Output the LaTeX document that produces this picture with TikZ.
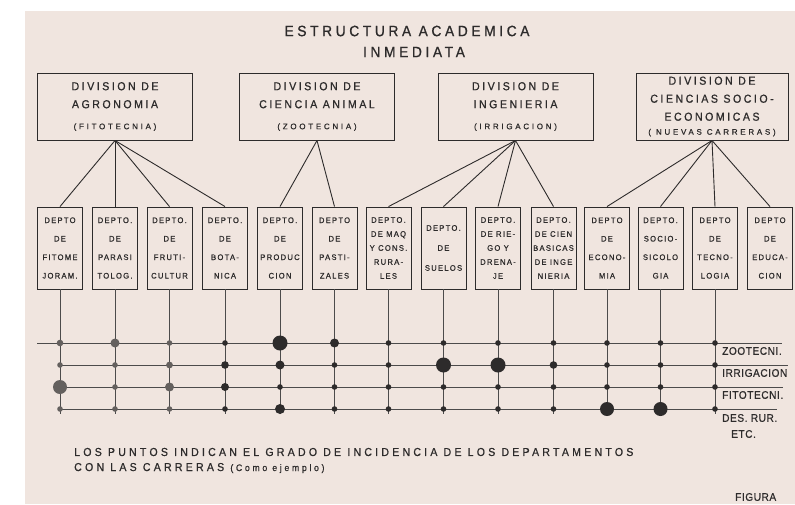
\documentclass[tikz,border=0pt]{standalone}
\usepackage{fontspec}
\usepackage{tikz}
\setmainfont{Liberation Sans}
\newfontfamily\titlefont[LetterSpace=24, FakeBold=0.9, FakeStretch=0.92]{Liberation Sans}
\newfontfamily\divfont[LetterSpace=22, FakeBold=0.8, FakeStretch=0.92]{Liberation Sans}
\newfontfamily\subdivfont[LetterSpace=34, FakeBold=0.8]{Liberation Sans}
\newfontfamily\deptfont[LetterSpace=16, FakeBold=0.8, FakeStretch=0.95]{Liberation Sans}
\newfontfamily\notefont[LetterSpace=28, FakeBold=0.7, FakeStretch=0.92]{Liberation Sans}
\newfontfamily\carrfont[LetterSpace=5, FakeBold=0.7, FakeStretch=0.92]{Liberation Sans}
\definecolor{paper}{RGB}{240, 229, 223}
\definecolor{ink}{RGB}{45, 43, 43}
\definecolor{dotgray}{RGB}{100, 96, 94}
\def\subdiv{\subdivfont\fontsize{8}{9}\selectfont}
\tikzset{
  division/.style = {draw = ink, line width = 1pt, minimum width = 155, minimum height = 67,
    inner sep = 0pt, align = center, text = ink, font = \divfont\fontsize{11.5}{18}\selectfont},
  depto/.style = {draw = ink, line width = 0.9pt, minimum width = 45, minimum height = 82,
    inner sep = 0pt, align = center, text = ink, font = \deptfont\fontsize{8}{18.5}\selectfont},
  depto5/.style = {depto, font = \deptfont\fontsize{8}{14}\selectfont},
  rama/.style = {draw = ink, line width = 0.9pt},
  rejilla/.style = {draw = ink!85, line width = 0.7pt},
  carrera/.style = {anchor = west, inner sep = 0pt, text = ink, font = \carrfont\fontsize{11}{12}\selectfont},
  nota/.style = {anchor = west, inner sep = 0pt, text = ink, font = \notefont\fontsize{11.5}{12}\selectfont}
}

\begin{document}
\begin{tikzpicture}[x = 1pt, y = -1pt]
  \useasboundingbox (0, 0) rectangle (795, 504);
  \fill[paper] (25, 11) rectangle (795, 504);

  % titulo
  \node[text = ink, font = \titlefont\fontsize{15}{16}\selectfont] (titulo) at (407, 31) {ESTRUCTURA ACADEMICA};
  \node[text = ink, font = \titlefont\fontsize{15}{16}\selectfont] (titulo2) at (414, 52) {INMEDIATA};

  % divisiones
  \node[division] (agro) at (115, 106.5) {DIVISION DE\\AGRONOMIA\\[3pt]{\subdiv (FITOTECNIA)}};
  \node[division] (animal) at (317, 106.5) {DIVISION DE\\CIENCIA ANIMAL\\[3pt]{\subdiv (ZOOTECNIA)}};
  \node[division] (inge) at (515.5, 106.5) {DIVISION DE\\INGENIERIA\\[3pt]{\subdiv (IRRIGACION)}};
  \node[division, minimum width = 152] (socio) at (712, 106.5) {DIVISION DE\\CIENCIAS SOCIO-\\ECONOMICAS\\[-4pt]{\subdiv ( NUEVAS CARRERAS)}};

  % departamentos
  \node[depto] (d1) at (60, 248) {DEPTO\\DE\\FITOME\\JORAM.};
  \node[depto] (d2) at (115, 248) {DEPTO.\\DE\\PARASI\\TOLOG.};
  \node[depto] (d3) at (169.5, 248) {DEPTO.\\DE\\FRUTI-\\CULTUR};
  \node[depto] (d4) at (225, 248) {DEPTO.\\DE\\BOTA-\\NICA};
  \node[depto] (d5) at (280, 248) {DEPTO.\\DE\\PRODUC\\CION};
  \node[depto] (d6) at (334.5, 248) {DEPTO\\DE\\PASTI-\\ZALES};
  \node[depto5] (d7) at (388.5, 248) {DEPTO.\\DE MAQ\\Y CONS.\\RURA-\\LES};
  \node[depto, font = \deptfont\fontsize{8}{20}\selectfont] (d8) at (443.5, 248) {DEPTO.\\DE\\SUELOS};
  \node[depto5] (d9) at (498, 248) {DEPTO.\\DE RIE-\\GO Y\\DRENA-\\JE};
  \node[depto5] (d10) at (553.5, 248) {DEPTO.\\DE CIEN\\BASICAS\\DE INGE\\NIERIA};
  \node[depto] (d11) at (607, 248) {DEPTO\\DE\\ECONO-\\MIA};
  \node[depto] (d12) at (660.5, 248) {DEPTO.\\SOCIO-\\SICOLO\\GIA};
  \node[depto] (d13) at (715, 248) {DEPTO\\DE\\TECNO-\\LOGIA};
  \node[depto] (d14) at (770, 248) {DEPTO\\DE\\EDUCA-\\CION};

  \foreach \d in {1,...,4} \draw[rama] (agro.south) -- (d\d.north);
  \foreach \d in {5,6} \draw[rama] (animal.south) -- (d\d.north);
  \foreach \d in {7,...,10} \draw[rama] (inge.south) -- (d\d.north);
  \foreach \d in {11,...,14} \draw[rama] (socio.south) -- (d\d.north);

  % carreras
  \node[carrera] (zoo) at (722, 351) {ZOOTECNI.};
  \node[carrera] (irr) at (722, 373) {IRRIGACION};
  \node[carrera] (fito) at (722, 395) {FITOTECNI.};
  \node[carrera] (desrur) at (722, 418) {DES. RUR.};
  \node[carrera] (etc) at (731, 434) {ETC.};
  \coordinate (fondo) at (0, 414);

  \foreach \d in {1,...,13} \draw[rejilla] (d\d.south) -- (d\d.south |- fondo);
  \draw[rejilla] (37, 343) -- (zoo.east |- 0, 343);
  \draw[rejilla] (d1.south |- 0, 365) -- (irr.east |- 0, 365);
  \draw[rejilla] (d1.south |- 0, 387) -- (fito.east |- 0, 387);
  \draw[rejilla] (d1.south |- 0, 409) -- (desrur.east |- 0, 409);

  % puntos: columna / zootecnia / irrigacion / fitotecnia / des. rural
  \foreach \d/\a/\b/\e/\f in {1/3.3/2.8/7/2.8, 2/4.5/2.8/2.8/2.8, 3/2.8/3.4/4.5/2.8,
      4/2.8/3.8/4/2.8, 5/7.5/4.5/2.8/5, 6/4.5/2.8/2.8/2.8, 7/2.8/2.8/2.8/2.8,
      8/2.8/7.5/2.8/2.8, 9/2.8/7.5/2.8/2.8, 10/2.8/3.8/2.8/2.8, 11/2.8/2.8/2.8/7,
      12/2.8/2.8/2.8/7, 13/2.8/2.8/2.8/2.8} {
    \ifnum\d<4 \def\tono{dotgray}\else \def\tono{ink}\fi
    \fill[\tono] (d\d.south |- 0, 343) circle (\a pt);
    \fill[\tono] (d\d.south |- 0, 365) circle (\b pt);
    \fill[\tono] (d\d.south |- 0, 387) circle (\e pt);
    \fill[\tono] (d\d.south |- 0, 409) circle (\f pt);
  }

  % nota
  \node[nota] (nota1) at (74, 452) {LOS PUNTOS INDICAN EL GRADO DE INCIDENCIA DE LOS DEPARTAMENTOS};
  \node[nota] (nota2) at (74, 468) {CON LAS CARRERAS {\fontsize{9.5}{10}\selectfont (Como ejemplo)}};
  \node[nota, font = \carrfont\fontsize{11}{12}\selectfont] (figura) at (735, 497) {FIGURA};
\end{tikzpicture}
\end{document}
